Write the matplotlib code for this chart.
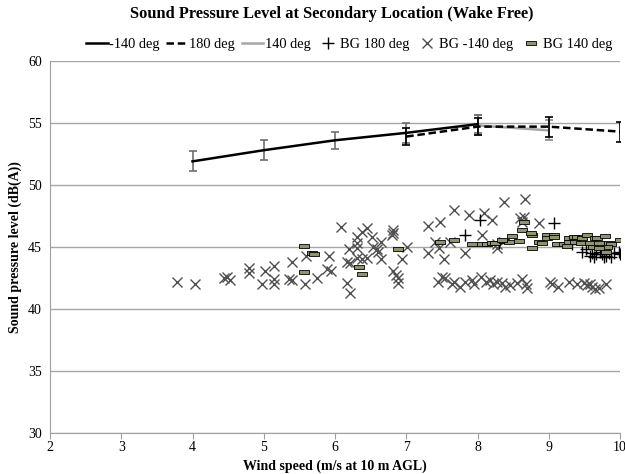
import numpy as np
import matplotlib
matplotlib.use('Agg')
import matplotlib.pyplot as plt
from matplotlib.path import Path
from matplotlib.lines import Line2D

plt.rcParams['font.family'] = ['Liberation Serif', 'DejaVu Serif']

# mean sound pressure levels with error bars
ws_m140 = [4, 5, 6, 7, 8]
spl_m140 = [51.9, 52.8, 53.6, 54.2, 54.9]
err_m140 = [0.8, 0.8, 0.7, 0.8, 0.7]

ws_180 = [7, 8, 9, 10]
spl_180 = [53.9, 54.7, 54.7, 54.3]
err_180 = [0.7, 0.7, 0.8, 0.8]

ws_140 = [8, 9]
spl_140 = [54.8, 54.4]
err_140 = [0.8, 0.8]

# background scatter
bg180_x = [7.83, 8.04, 9.07, 9.33, 9.47, 9.52, 9.61, 9.63, 9.68, 9.72, 9.75, 9.77,
           9.84, 9.91, 9.98, 10.0, 9.58, 9.66, 9.8, 9.88, 8.3]
bg180_y = [46.0, 47.2, 46.9, 45.2, 44.6, 44.8, 44.5, 44.2, 45.2, 44.6, 44.4, 44.2,
           44.5, 44.5, 44.6, 44.4, 44.3, 44.4, 44.3, 44.2, 45.3]

bgm140_x = [3.78, 4.04, 4.44, 4.48, 4.53, 4.79, 4.79, 4.97, 5.02, 5.14, 5.14, 5.14,
            5.40, 5.35, 5.40, 5.59, 5.58, 5.75, 5.91, 5.89, 5.95, 6.09, 6.17, 6.21,
            6.19, 6.17, 6.21, 6.31, 6.31, 6.31, 6.38, 6.45, 6.31, 6.38, 6.45, 6.52,
            6.54, 6.59, 6.61, 6.64, 6.65, 6.82, 6.82, 6.80, 6.94, 7.01, 6.82, 6.85,
            6.89, 6.89, 7.31, 7.48, 7.67, 7.41, 7.46, 7.53, 7.31, 7.50, 7.55, 7.64,
            7.62, 7.88, 8.09, 8.20, 8.37, 8.67, 8.06, 8.86, 8.60, 8.65, 8.62, 7.83,
            8.27, 8.27,
            7.45, 7.67, 7.75, 7.83, 7.92, 7.95, 8.05, 8.12, 8.17, 8.22, 8.28, 8.35,
            8.38, 8.45, 8.55, 8.62, 8.68, 8.70, 9.02, 9.05, 9.13, 9.28, 9.40, 9.50,
            9.54, 9.58, 9.60, 9.65, 9.70, 9.80]
bgm140_y = [42.2, 42.0, 42.5, 42.6, 42.3, 43.3, 42.9, 42.0, 43.1, 43.5, 42.4, 42.0,
            43.8, 42.4, 42.3, 44.3, 42.0, 42.5, 44.3, 43.2, 43.1, 46.6, 42.1, 41.3,
            44.8, 43.8, 43.7, 45.8, 45.3, 44.9, 46.2, 46.5, 44.1, 44.0, 44.1, 45.8,
            45.0, 44.8, 44.6, 45.4, 44.0, 46.4, 46.1, 46.0, 44.0, 45.0, 43.1, 42.7,
            42.5, 42.1, 46.7, 47.0, 48.0, 45.4, 44.9, 44.0, 44.5, 42.6, 42.5, 42.0,
            45.4, 47.6, 47.7, 47.2, 48.6, 48.9, 46.0, 46.9, 47.3, 47.4, 47.0, 44.5,
            45.2, 44.9,
            42.2, 42.2, 41.8, 42.2, 42.3, 42.0, 42.6, 42.2, 42.3, 42.0, 42.2, 42.1,
            41.8, 41.9, 42.1, 42.4, 42.0, 41.7, 42.2, 42.0, 41.8, 42.2, 42.0, 42.1,
            41.9, 42.0, 41.8, 41.6, 41.7, 42.0]

bg140_x = [5.56, 5.68, 5.70, 5.56, 6.33, 6.38, 6.89, 7.48, 7.67, 7.92, 8.06, 8.13,
           8.2, 8.25, 8.37, 8.44, 8.58, 8.62, 8.76, 8.86, 8.76, 8.65, 8.75, 8.48,
           8.34, 8.98, 8.98, 8.9, 9.07, 9.07, 9.12, 9.21, 9.28, 9.35, 9.40, 9.47,
           9.54, 9.65, 9.68, 9.79, 10.0, 9.28, 9.37, 9.45, 9.58, 9.70, 9.85, 9.88,
           9.26, 9.62, 9.82, 9.70, 9.80]
bg140_y = [45.1, 44.5, 44.4, 43.0, 43.4, 42.8, 44.8, 45.4, 45.6, 45.2, 45.2, 45.2,
           45.3, 45.3, 45.5, 45.4, 45.5, 46.4, 46.0, 45.4, 44.9, 47.0, 46.1, 45.9,
           45.6, 46.0, 45.7, 45.35, 46.0, 45.8, 45.2, 45.2, 45.7, 45.8, 45.8, 45.7,
           46.0, 45.7, 45.7, 45.9, 45.6, 45.4, 45.4, 45.3, 45.35, 45.3, 45.35, 45.2,
           45.1, 45.0, 45.0, 44.9, 44.6]

# flat rectangle marker for BG 140 deg
bar_marker = Path([(-1, -0.4), (1, -0.4), (1, 0.4), (-1, 0.4), (-1, -0.4)],
                  [Path.MOVETO, Path.LINETO, Path.LINETO, Path.LINETO, Path.CLOSEPOLY])

fig = plt.figure(figsize=(6.25, 4.74), dpi=100)
ax = fig.add_axes([0.08, 0.0865, 0.912, 0.785])

ax.errorbar(ws_m140, spl_m140, yerr=err_m140, color='black', lw=1.8,
            ecolor='#6e6e6e', elinewidth=1.2, capsize=3, capthick=1.2, zorder=4)
ax.errorbar(ws_180, spl_180, yerr=err_180, color='black', lw=1.8, ls=(0, (3, 1.5)),
            ecolor='black', elinewidth=1.2, capsize=3, capthick=1.2, zorder=4)
ax.errorbar(ws_140, spl_140, yerr=err_140, color='#a6a6a6', lw=1.8,
            ecolor='#8c8c8c', elinewidth=1.2, capsize=3, capthick=1.2, zorder=3)

ax.plot(bg180_x, bg180_y, ls='none', marker='+', ms=8, mew=1.0, color='black', zorder=3)
ax.plot(bgm140_x, bgm140_y, ls='none', marker='x', ms=7, mew=1.0, color='#505050', zorder=2)
ax.plot(bg140_x, bg140_y, ls='none', marker=bar_marker, ms=7, mew=0.6,
        mfc='#8f9470', mec='black', zorder=3)

ax.set_xlim(2, 10)
ax.set_ylim(30, 60)
ax.set_xticks(range(2, 11))
ax.set_yticks(range(30, 61, 5))
ax.yaxis.grid(True, color='#a6a6a6', lw=1.0)
ax.set_axisbelow(True)
for s in ['top', 'right']:
    ax.spines[s].set_visible(False)
for s in ['left', 'bottom']:
    ax.spines[s].set_color('#a0a0a0')
ax.tick_params(axis='x', length=4, color='#a0a0a0', labelsize=10, pad=2)
ax.tick_params(axis='y', length=0, labelsize=10, pad=6)

ax.set_xlabel('Wind speed (m/s at 10 m AGL)', fontsize=10, fontweight='bold', labelpad=4)
ax.set_ylabel('Sound pressure level (dB(A))', fontsize=10, fontweight='bold', labelpad=4)
fig.suptitle('Sound Pressure Level at Secondary Location (Wake Free)', x=0.531, y=0.988,
             fontsize=11.8, fontweight='bold')

handles = [
    Line2D([], [], color='black', lw=1.8),
    Line2D([], [], color='black', lw=1.8, ls=(0, (3, 1.5))),
    Line2D([], [], color='#a6a6a6', lw=1.8),
    Line2D([], [], ls='none', marker='+', ms=8, mew=1.0, color='black'),
    Line2D([], [], ls='none', marker='x', ms=7, mew=1.0, color='#505050'),
    Line2D([], [], ls='none', marker=bar_marker, ms=7, mew=0.6, mfc='#8f9470', mec='black'),
]
labels = ['-140 deg', '180 deg', '140 deg', 'BG 180 deg', 'BG -140 deg', 'BG 140 deg']
ax.legend(handles, labels, loc='lower center', bbox_to_anchor=(0.525, 1.01), ncol=6,
          frameon=False, fontsize=10.4, handlelength=1.5, handletextpad=0.1,
          columnspacing=0.45, borderaxespad=0.2, borderpad=0.2)

fig.savefig('out.png', dpi=100)
